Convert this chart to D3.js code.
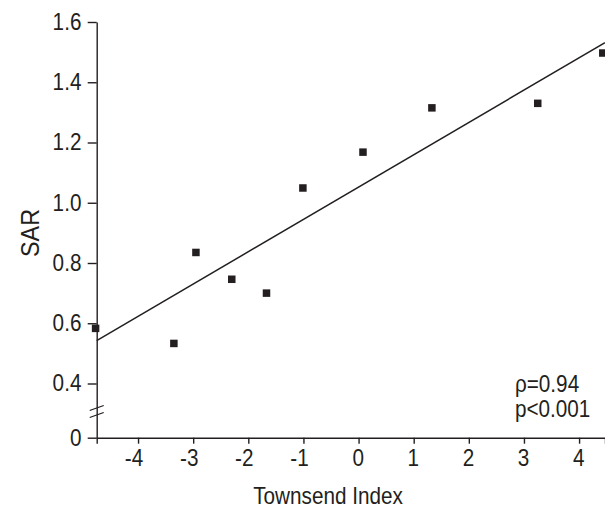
<!DOCTYPE html>
<html>
<head>
<meta charset="utf-8">
<script src="https://cdn.jsdelivr.net/npm/d3@7"></script>
<style>
  body { margin: 0; background: #fff; }
  svg { display: block; font-family: "Liberation Sans", Arial, Helvetica, sans-serif; }
  .axis path, .axis line { stroke: #231f20; stroke-width: 1.4; }
  .axis text { fill: #231f20; font-size: 23px; font-family: "Liberation Sans", Arial, sans-serif; }
</style>
</head>
<body>
<svg id="chart" width="605" height="508"></svg>
<script>
// Townsend deprivation index vs standardised admission ratio
const townsend = [-4.77, -3.35, -2.95, -2.30, -1.67, -1.01, 0.08, 1.33, 3.25, 4.43];
const sar = [0.583, 0.533, 0.835, 0.746, 0.700, 1.049, 1.168, 1.315, 1.330, 1.497];

// fitted regression line
const fitSlope = 0.1073;
const fitIntercept = 1.052;

const xTicks = [-4, -3, -2, -1, 0, 1, 2, 3, 4];
const yTicks = [0, 0.4, 0.6, 0.8, 1.0, 1.2, 1.4, 1.6];
const statLabels = ['\u03c1=0.94', 'p<0.001'];

const ink = '#231f20';
const squeeze = 'scale(0.9,1)';   // the original face is a bit condensed
const svg = d3.select('#chart');

const x = d3.scaleLinear()
  .domain([-4.75, 4.47])
  .range([96.7, 605]);

// broken axis: 0 sits below the 0.4 - 1.6 range
const y = d3.scaleLinear()
  .domain([0, 0.4, 1.6])
  .range([437.7, 383.5, 22]);

const x0 = x.range()[0];
const yBase = y(0);

const xAxis = d3.axisBottom(x)
  .tickValues(xTicks)
  .tickFormat(d => String(d))
  .tickSize(6)
  .tickSizeOuter(6)
  .tickPadding(6);

// digits sit under the tick, the minus sign hangs to the left
svg.append('g')
  .attr('class', 'axis')
  .attr('transform', `translate(0,${yBase})`)
  .call(xAxis)
  .selectAll('.tick text')
  .attr('dx', d => d < 0 ? -5 : -1)
  .attr('transform', squeeze);

const yAxis = d3.axisLeft(y)
  .tickValues(yTicks)
  .tickFormat(d => d === 0 ? '0' : d3.format('.1f')(d))
  .tickSize(9)
  .tickSizeOuter(0)
  .tickPadding(8);

svg.append('g')
  .attr('class', 'axis')
  .attr('transform', `translate(${x0},0)`)
  .call(yAxis)
  .selectAll('.tick text')
  .attr('transform', squeeze);

// axis break marks
const breakY = [408, 415];
svg.append('g')
  .selectAll('line')
  .data(breakY)
  .join('line')
  .attr('x1', x0 - 7)
  .attr('x2', x0 + 7)
  .attr('y1', d => d + 2.5)
  .attr('y2', d => d - 2.5)
  .attr('stroke', ink)
  .attr('stroke-width', 1.3);

// plot area
svg.append('clipPath').attr('id', 'plot-clip')
  .append('rect')
  .attr('x', x0 - 10).attr('y', 0)
  .attr('width', 605 - x0 + 10).attr('height', yBase);

const plot = svg.append('g').attr('clip-path', 'url(#plot-clip)');

const xEnds = x.domain();
plot.append('line')
  .attr('x1', x(xEnds[0]))
  .attr('y1', y(fitIntercept + fitSlope * xEnds[0]))
  .attr('x2', x(xEnds[1]))
  .attr('y2', y(fitIntercept + fitSlope * xEnds[1]))
  .attr('stroke', ink)
  .attr('stroke-width', 1.5);

const size = 7.5;
plot.selectAll('rect.pt')
  .data(townsend.map((t, i) => ({ t, s: sar[i] })))
  .join('rect')
  .attr('class', 'pt')
  .attr('x', d => x(d.t) - size / 2)
  .attr('y', d => y(d.s) - size / 2)
  .attr('width', size)
  .attr('height', size)
  .attr('fill', ink);

// axis titles
svg.append('text')
  .attr('transform', `translate(328,504) ${squeeze}`)
  .attr('text-anchor', 'middle')
  .attr('font-size', 23)
  .attr('fill', ink)
  .text('Townsend Index');

svg.append('text')
  .attr('transform', `translate(39,233) rotate(-90) ${squeeze}`)
  .attr('text-anchor', 'middle')
  .attr('font-size', 26)
  .attr('fill', ink)
  .text('SAR');

svg.append('g')
  .selectAll('text')
  .data(statLabels)
  .join('text')
  .attr('transform', (d, i) => `translate(515,${391.5 + i * 25.5}) ${squeeze}`)
  .attr('font-size', 23)
  .attr('fill', ink)
  .text(d => d);
</script>
</body>
</html>
